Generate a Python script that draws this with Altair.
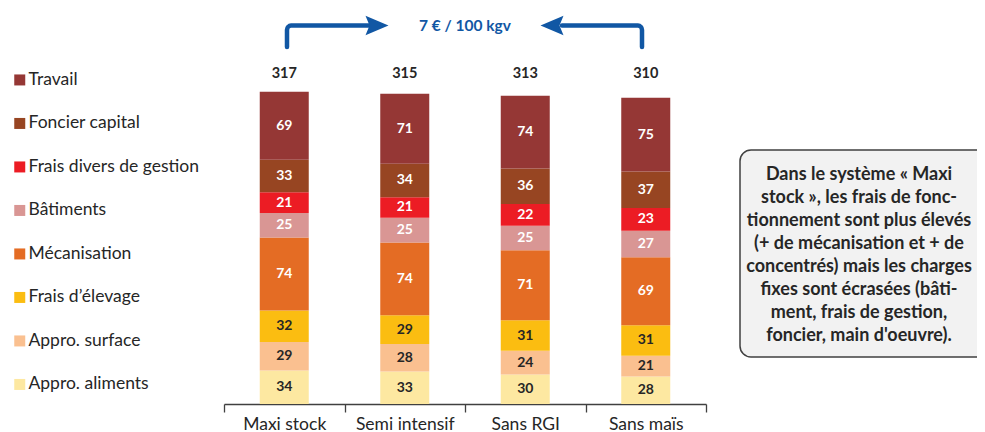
import altair as alt
import pandas as pd

categories = ["Maxi stock", "Semi intensif", "Sans RGI", "Sans maïs"]
series = ["Travail", "Foncier capital", "Frais divers de gestion", "Bâtiments",
          "Mécanisation", "Frais d’élevage", "Appro. surface", "Appro. aliments"]
travail = [69, 71, 74, 75]
foncier = [33, 34, 36, 37]
frais_divers = [21, 21, 22, 23]
batiments = [25, 25, 25, 27]
mecanisation = [74, 74, 71, 69]
frais_elevage = [32, 29, 31, 31]
appro_surface = [29, 28, 24, 21]
appro_aliments = [34, 33, 30, 28]
totals = [317, 315, 313, 310]
colors = ["#953735", "#974522", "#ec1c24", "#d99694",
          "#e46c24", "#fbbd11", "#fac090", "#fde8a1"]
label_colors = ["white"] * 5 + ["#262626"] * 3
note_lines = ["Dans le système « Maxi", "stock », les frais de fonc-",
              "tionnement sont plus élevés", "(+ de mécanisation et + de",
              "concentrés) mais les charges", "fixes sont écrasées (bâti-",
              "ment, frais de gestion,", "foncier, main d'oeuvre)."]
arrow_text = "7 € / 100 kgv"

values = [travail, foncier, frais_divers, batiments, mecanisation,
          frais_elevage, appro_surface, appro_aliments]

rows = []
for ci, cat in enumerate(categories):
    base = 0
    for si in range(len(series) - 1, -1, -1):
        v = values[si][ci]
        rows.append({"cat": cat, "serie": series[si], "value": v,
                     "order": len(series) - si, "y0": base, "y1": base + v,
                     "mid": base + v / 2, "lab": str(v),
                     "lc": label_colors[si]})
        base += v
df = pd.DataFrame(rows)
tot_df = pd.DataFrame({"cat": categories, "total": [str(t) for t in totals]})

FONT = "Lato"
BLUE = "#1157a4"
DARK = "#262626"

xenc = alt.X("cat:N", sort=categories, title=None,
             scale=alt.Scale(paddingInner=0, paddingOuter=0),
             axis=alt.Axis(tickBand="extent", labelAngle=0, labelFontSize=17.5,
                           labelColor=DARK, labelFont=FONT, tickSize=8,
                           tickColor="#404040", domainColor="#404040",
                           domainWidth=1.3, tickWidth=1.3, labelPadding=3))
yscale = alt.Scale(domain=[0, 400])

bars = alt.Chart(df).mark_bar(width=49).encode(
    x=xenc,
    y=alt.Y("y0:Q", scale=yscale, axis=None),
    y2="y1:Q",
    color=alt.Color("serie:N", scale=alt.Scale(domain=series, range=colors),
                    legend=alt.Legend(title=None, orient="none", legendX=-213,
                                      legendY=61.2, symbolType="square",
                                      symbolSize=121, symbolStrokeWidth=0,
                                      labelFontSize=17.5, labelFont=FONT,
                                      labelColor=DARK, rowPadding=24.5,
                                      labelOffset=0, labelLimit=0)),
)

seg_labels = alt.Chart(df).mark_text(font=FONT, fontSize=14, fontWeight="bold").encode(
    x=alt.X("cat:N", sort=categories),
    y=alt.Y("mid:Q", scale=yscale),
    text="lab:N",
    color=alt.Color("lc:N", scale=None),
)

tot_labels = alt.Chart(tot_df).mark_text(font=FONT, fontSize=14.5, fontWeight="bold",
                                         color=DARK).encode(
    x=alt.X("cat:N", sort=categories),
    y=alt.value(64),
    text="total:N",
)

# annotation: arrows (pixel positions relative to plot origin)
left_shaft = pd.DataFrame({"px": [63, 63, 64, 67, 146], "py": [37, 20, 17, 15.5, 15.5], "o": range(5)})
right_shaft = pd.DataFrame({"px": [418, 418, 417, 414, 338], "py": [37, 20, 17, 15.5, 15.5], "o": range(5)})

def shaft(d):
    return alt.Chart(d).mark_line(color=BLUE, strokeWidth=4.5, strokeCap="round",
                                  strokeJoin="round", interpolate="monotone").encode(
        x=alt.X("px:Q", scale=None), y=alt.Y("py:Q", scale=None), order="o:Q")

head_r = alt.Chart(pd.DataFrame({"a": [0]})).mark_point(
    shape="M-1,-0.85L1,0L-1,0.85L-0.65,0Z", size=529, filled=True, opacity=1,
    color=BLUE, strokeWidth=0).encode(x=alt.value(153), y=alt.value(15.5))
head_l = alt.Chart(pd.DataFrame({"a": [0]})).mark_point(
    shape="M1,-0.85L-1,0L1,0.85L0.65,0Z", size=529, filled=True, opacity=1,
    color=BLUE, strokeWidth=0).encode(x=alt.value(328), y=alt.value(15.5))
arrow_label = alt.Chart(pd.DataFrame({"t": [arrow_text]})).mark_text(
    font=FONT, fontSize=15.5, fontWeight="bold", color=BLUE).encode(
    x=alt.value(241), y=alt.value(16), text="t:N")

box = alt.Chart(pd.DataFrame({"a": [0]})).mark_rect(
    fill="#f2f2f2", stroke="#404040", strokeWidth=1.5, cornerRadius=11).encode(
    x=alt.value(516), x2=alt.value(790), y=alt.value(140), y2=alt.value(347))
note = alt.Chart(pd.DataFrame({"a": [0]})).mark_text(
    font=FONT, fontSize=18, fontWeight="bold", color=DARK, lineHeight=23,
    align="center", baseline="middle").encode(
    x=alt.value(635), y=alt.value(165), text=alt.value(note_lines))

chart = alt.layer(bars, seg_labels, tot_labels, shaft(left_shaft), shaft(right_shaft),
                  head_r, head_l, arrow_label, box, note).properties(
    width=482, height=394,
    autosize=alt.AutoSizeParams(type="none"),
    padding={"left": 216, "top": 2, "right": 271, "bottom": 28},
).configure_view(stroke=None)

chart.save("out.html", embed_options={"renderer": "svg", "actions": False})
